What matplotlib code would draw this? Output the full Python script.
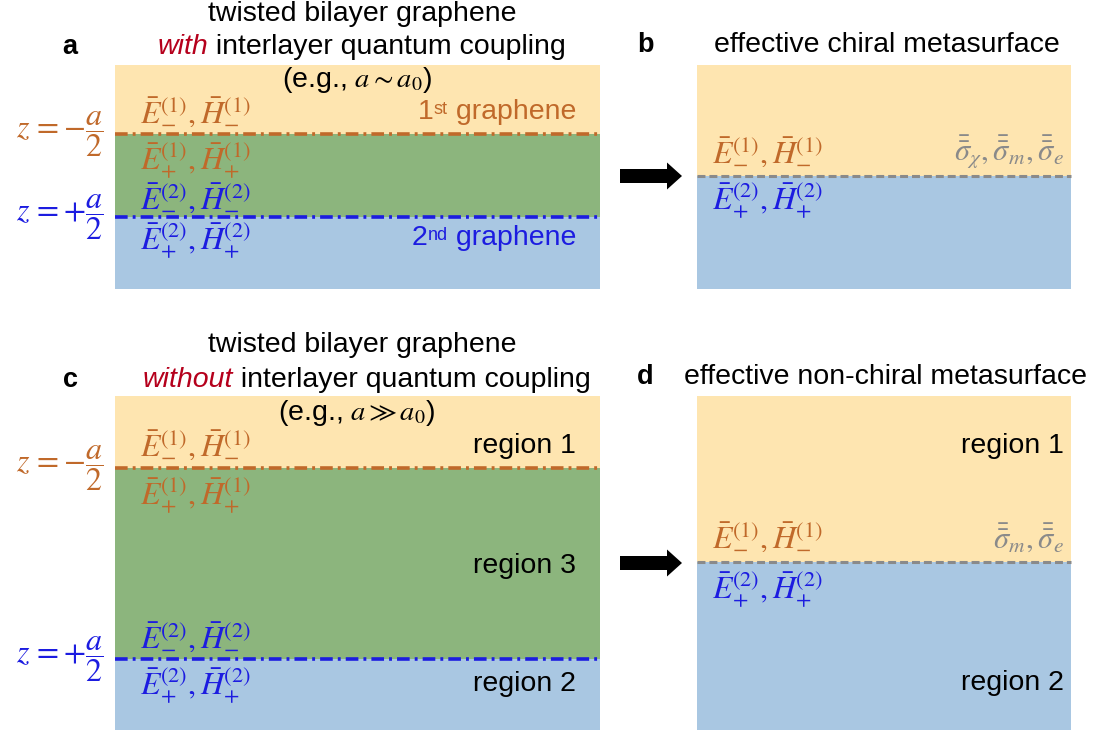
import matplotlib.pyplot as plt
from matplotlib.patches import Rectangle, FancyArrow

plt.rcParams['font.family'] = ['Liberation Sans', 'DejaVu Sans']
plt.rcParams['mathtext.fontset'] = 'stix'

# layout of the four panels, in figure pixels (y grows downward)
panel_names = ['a', 'b', 'c', 'd']
panel_x = [(115, 600), (697, 1071), (115, 600), (697, 1071)]
panel_y = [(65, 289), (65, 289), (396, 730), (396, 730)]

# layer boundaries inside each panel
# (top, bottom, fill) per layer
layers = {
    'a': [(65, 134, 'orange'), (134, 217, 'green'), (217, 289, 'blue')],
    'b': [(65, 176, 'orange'), (176, 289, 'blue')],
    'c': [(396, 468, 'orange'), (468, 659, 'green'), (659, 730, 'blue')],
    'd': [(396, 562, 'orange'), (562, 730, 'blue')],
}
# interface lines: (panel, y, style)
interfaces = [('a', 134, 'orange'), ('a', 217, 'blue'),
              ('b', 176, 'gray'),
              ('c', 468, 'orange'), ('c', 659, 'blue'),
              ('d', 562, 'gray')]

fills = {'orange': '#FEE5B0', 'green': '#8CB57D', 'blue': '#A9C7E2'}
col_or = '#C0692A'
col_bl = '#1C1CE0'
col_gr = '#8A8A8A'
col_red = '#B5001C'

E1m = r'$\bar{E}_{-}^{(1)},\bar{H}_{-}^{(1)}$'
E1p = r'$\bar{E}_{+}^{(1)},\bar{H}_{+}^{(1)}$'
E2m = r'$\bar{E}_{-}^{(2)},\bar{H}_{-}^{(2)}$'
E2p = r'$\bar{E}_{+}^{(2)},\bar{H}_{+}^{(2)}$'

fig = plt.figure(figsize=(10.96, 7.34), dpi=100)
ax = fig.add_axes([0, 0, 1, 1])
ax.set_xlim(0, 1096)
ax.set_ylim(734, 0)
ax.axis('off')

for name, (x0, x1) in zip(panel_names, panel_x):
    for top, bot, f in layers[name]:
        ax.add_patch(Rectangle((x0, top), x1 - x0, bot - top,
                               facecolor=fills[f], edgecolor='none'))

for name, y, style in interfaces:
    x0, x1 = panel_x[panel_names.index(name)]
    if style == 'gray':
        ax.plot([x0, x1], [y, y], color=col_gr, lw=2.2,
                linestyle=(0, (2.6, 1.3)), solid_capstyle='butt')
    else:
        c = col_or if style == 'orange' else col_bl
        ax.plot([x0, x1], [y, y], color=c, lw=2.6,
                linestyle=(0, (3.5, 1.4, 0.8, 1.4)))

# arrows between columns
for y in [176, 563]:
    ax.add_patch(FancyArrow(620, y, 62, 0, width=14, head_width=27,
                            head_length=15, length_includes_head=True,
                            color='black', lw=0))

fs_t = 20.5
fs_m = 23

# panel letters
for lab, x, y in [('a', 70, 47), ('b', 645, 45), ('c', 70, 380), ('d', 645, 377)]:
    ax.text(x, y, lab, fontsize=fs_t - 1, fontweight='bold', ha='center', va='center')

# titles
ax.text(362, 14, 'twisted bilayer graphene', fontsize=fs_t, ha='center', va='center')
ax.text(362, 345, 'twisted bilayer graphene', fontsize=fs_t, ha='center', va='center')
t1 = ax.text(208, 47, 'with', fontsize=fs_t, style='italic', color=col_red,
             ha='right', va='center')
ax.annotate(' interlayer quantum coupling', xy=(1, 0.5), xycoords=t1,
            fontsize=fs_t, ha='left', va='center')
t2 = ax.text(233, 380, 'without', fontsize=fs_t, style='italic', color=col_red,
             ha='right', va='center')
ax.annotate(' interlayer quantum coupling', xy=(1, 0.5), xycoords=t2,
            fontsize=fs_t, ha='left', va='center')
ax.text(357, 80, r'(e.g., $a{\sim}a_0$)', fontsize=fs_t, ha='center', va='center')
ax.text(357, 413, r'(e.g., $a \gg a_0$)', fontsize=fs_t, ha='center', va='center')
ax.text(887, 45, 'effective chiral metasurface', fontsize=fs_t, ha='center', va='center')
ax.text(885, 377, 'effective non-chiral metasurface', fontsize=fs_t, ha='center', va='center')

# z labels
for y, s, c in [(134, r'$z\,= -\dfrac{a}{2}$', col_or), (217, r'$z\,= +\dfrac{a}{2}$', col_bl),
                (468, r'$z\,= -\dfrac{a}{2}$', col_or), (659, r'$z\,= +\dfrac{a}{2}$', col_bl)]:
    ax.text(103, y, s, fontsize=fs_m, color=c, ha='right', va='center')

# field labels
for x, y, s, c in [(140, 110, E1m, col_or), (140, 160, E1p, col_or),
                   (140, 196, E2m, col_bl), (140, 240, E2p, col_bl),
                   (712, 150, E1m, col_or), (712, 200, E2p, col_bl),
                   (140, 443, E1m, col_or), (140, 495, E1p, col_or),
                   (140, 635, E2m, col_bl), (140, 685, E2p, col_bl),
                   (712, 535, E1m, col_or), (712, 589, E2p, col_bl)]:
    ax.text(x, y, s, fontsize=fs_m, color=c, ha='left', va='center')

# surface conductivity labels
ax.text(1064, 152, r'$\bar{\bar{\sigma}}_{\chi},\bar{\bar{\sigma}}_{m},\bar{\bar{\sigma}}_{e}$',
        fontsize=22, color=col_gr, ha='right', va='center')
ax.text(1064, 538, r'$\bar{\bar{\sigma}}_{m},\bar{\bar{\sigma}}_{e}$',
        fontsize=22, color=col_gr, ha='right', va='center')

# graphene labels: number, raised suffix, word
for y, num, suf, c in [(112, '1', 'st', col_or), (238, '2', 'nd', col_bl)]:
    tg = ax.text(576, y, ' graphene', fontsize=fs_t, color=c, ha='right', va='center')
    ts = ax.annotate(suf, xy=(0, 0.92), xycoords=tg, fontsize=13, color=c,
                     ha='right', va='top')
    ax.annotate(num, xy=(0, 0.5), xycoords=(ts, tg), fontsize=fs_t, color=c,
                ha='right', va='center')

# region labels
for x, y, s in [(576, 446, 'region 1'), (576, 566, 'region 3'), (576, 684, 'region 2'),
                (1064, 446, 'region 1'), (1064, 683, 'region 2')]:
    ax.text(x, y, s, fontsize=fs_t, ha='right', va='center')

fig.savefig('out.png', dpi=100)
